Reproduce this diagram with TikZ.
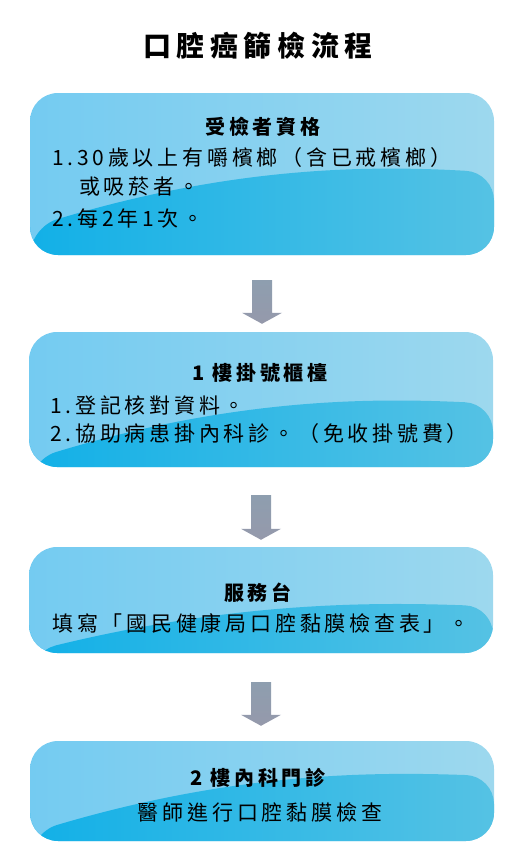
\documentclass[tikz,border=0pt]{standalone}
\usepackage{fontspec}
\setmainfont{Noto Sans CJK TC}[LetterSpace=18]
\newfontfamily\titlefont{Noto Sans CJK TC}[LetterSpace=20]
\usetikzlibrary{calc}
\definecolor{topL}{HTML}{74CBF1}
\definecolor{topR}{HTML}{9DD8EE}
\definecolor{botL}{HTML}{12B0E7}
\definecolor{botR}{HTML}{55C2E4}
\definecolor{arrT}{HTML}{8E9EAF}
\definecolor{arrB}{HTML}{9599AB}
\tikzset{
  wavebox/.style 2 args={rounded corners=28pt, minimum width=464pt, inner sep=0pt,
    path picture={
      \shade[left color=topL, right color=topR]
        (path picture bounding box.south west) rectangle (path picture bounding box.north east);
      \shade[left color=botL, right color=botR]
        let \p1=(path picture bounding box.south west), \p2=(path picture bounding box.north east),
            \n1={\x2-\x1}, \n2={\y2-\y1} in
        (\x1,\y1) -- (\x1,{\y1+#1*\n2})
        .. controls ({\x1+0.45*\n1},{\y1+(#2+0.05)*\n2}) and ({\x1+0.75*\n1},{\y1+(#2+0.04)*\n2})
        .. (\x2,{\y1+#2*\n2}) -- (\x2,\y1) -- cycle;
    }},
  head/.style={font=\fontsize{20}{24}\selectfont\bfseries, inner sep=0pt},
  body/.style={font=\fontsize{21}{24}\selectfont, inner sep=0pt},
  arrowshade/.style={top color=arrT, bottom color=arrB}
}
\newcommand\flowarrow[4]{%
  \path (#1.south) ++(0,#3) coordinate (fa-s);
  \path (fa-s |- #2.north) ++(0,-#4) coordinate (fa-t);
  \shade[arrowshade] ($(fa-s)+(-10,0)$) -- ($(fa-s)+(10,0)$) -- ($(fa-t)+(10,-11)$)
    -- ($(fa-t)+(20,-11)$) -- (fa-t) -- ($(fa-t)+(-20,-11)$) -- ($(fa-t)+(-10,-11)$) -- cycle;}
\begin{document}
\begin{tikzpicture}[x=1pt,y=-1pt]
\useasboundingbox (0,0) rectangle (532,862);
\node[font=\fontsize{28}{32}\selectfont\titlefont\bfseries, inner sep=0pt] (title) at (258,46) {口腔癌篩檢流程};

\node[wavebox={0.17}{0.51}, minimum height=162pt] (b1) at (262,174) {};
\node[wavebox={0.05}{0.47}, minimum height=135pt] (b2) at (261,399.5) {};
\node[wavebox={0.01}{0.44}, minimum height=106pt] (b3) at (261,600) {};
\node[wavebox={0.08}{0.65}, minimum height=100pt] (b4) at (262,791) {};

\node[head] (b1h) at (263,127) {受檢者資格};
\node[body, anchor=west] (b1l1) at (52,158) {1.30歲以上有嚼檳榔（含已戒檳榔）};
\node[body, anchor=west] (b1l2) at (79,187) {或吸菸者。};
\node[body, anchor=west] (b1l3) at (52,218) {2.每2年1次。};

\node[head] (b2h) at (260,373) {1 樓掛號櫃檯};
\node[body, anchor=west] (b2l1) at (50,405) {1.登記核對資料。};
\node[body, anchor=west] (b2l2) at (50,434) {2.協助病患掛內科診。（免收掛號費）};

\node[head] (b3h) at (258,593) {服務台};
\node[body] (b3l1) at (261,623) {填寫「國民健康局口腔黏膜檢查表」。};

\node[head] (b4h) at (258,778) {2 樓內科門診};
\node[body] (b4l1) at (260,812) {醫師進行口腔黏膜檢查};

\flowarrow{b1}{b2}{25}{8}
\flowarrow{b2}{b3}{28}{7}
\flowarrow{b3}{b4}{29}{15}
\end{tikzpicture}
\end{document}
